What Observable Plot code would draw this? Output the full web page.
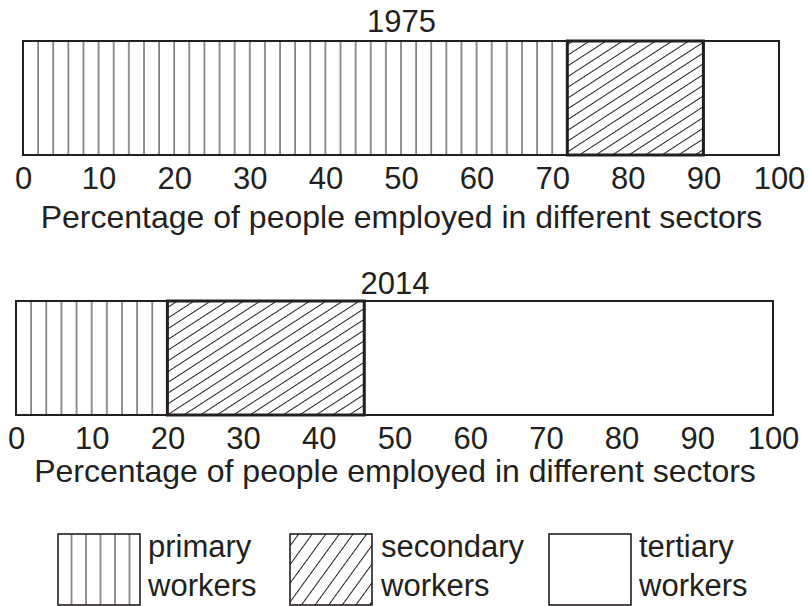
<!DOCTYPE html>
<html>
<head>
<meta charset="utf-8">
<script src="https://cdn.jsdelivr.net/npm/d3@7"></script>
<script src="https://cdn.jsdelivr.net/npm/@observablehq/plot@0.6"></script>
<style>
  html, body { margin: 0; padding: 0; background: #fff; }
  #wrap { position: relative; width: 809px; height: 606px; overflow: hidden; font-family: "Liberation Sans", Arial, sans-serif; color: #231f20; }
  #wrap > svg { position: absolute; left: 0; }
</style>
</head>
<body>
<div id="wrap"></div>
<script>
// ---- data ----
const years = ["1975", "2014"];
const sectors = ["primary", "secondary", "tertiary"];
const sectorLabels = [["primary", "workers"], ["secondary", "workers"], ["tertiary", "workers"]];
const primaryPct = [72, 20];
const secondaryPct = [18, 26];
const tertiaryPct = [10, 54];
const xTicks = [0, 10, 20, 30, 40, 50, 60, 70, 80, 90, 100];
const axisLabel = "Percentage of people employed in different sectors";

const INK = "#231f20";
const FONT = "Liberation Sans, Arial, sans-serif";
const FS = 31;
const FS_LABEL = 32;

function rowsFor(i) {
  const vals = [primaryPct[i], secondaryPct[i], tertiaryPct[i]];
  let acc = 0;
  return sectors.map((s, k) => {
    const r = {year: years[i], sector: s, x1: acc, x2: acc + vals[k]};
    acc += vals[k];
    return r;
  });
}

const NS = "http://www.w3.org/2000/svg";
function el(name, attrs, parent) {
  const e = document.createElementNS(NS, name);
  for (const k in attrs) e.setAttribute(k, attrs[k]);
  if (parent) parent.appendChild(e);
  return e;
}

function addPatterns(svg, id, x0, stripeW) {
  const defs = el("defs", {});
  svg.insertBefore(defs, svg.firstChild);
  const p = el("pattern", {id: "prim" + id, patternUnits: "userSpaceOnUse", x: x0 - 1, y: 0, width: stripeW, height: 20}, defs);
  el("rect", {x: 0, y: 0, width: stripeW, height: 20, fill: "#fff"}, p);
  el("line", {x1: 1, x2: 1, y1: 0, y2: 20, stroke: "#3a3637", "stroke-width": 1.1}, p);
  const h = el("pattern", {id: "hatch" + id, patternUnits: "userSpaceOnUse", width: 20, height: 9, patternTransform: "rotate(-33)"}, defs);
  el("rect", {x: 0, y: 0, width: 20, height: 9, fill: "#fff"}, h);
  el("line", {x1: 0, x2: 20, y1: 4.5, y2: 4.5, stroke: INK, "stroke-width": 1}, h);
}

function makeChart(i, mLeft, mRight, mTop, top, titleDy, labelDy) {
  const rows = rowsFor(i);
  const id = years[i];
  const plot = Plot.plot({
    width: 809,
    height: mTop + 114 + 85,
    marginLeft: mLeft,
    marginRight: mRight,
    marginTop: mTop,
    marginBottom: 85,
    style: {fontFamily: FONT, fontSize: FS + "px", color: INK, background: "transparent", overflow: "visible"},
    x: {domain: [0, 100], ticks: xTicks},
    y: {type: "band", domain: [id], padding: 0, axis: null},
    marks: [
      Plot.axisX({ticks: xTicks, tickSize: 0, tickPadding: 11, fontSize: FS, fill: INK, label: null}),
      Plot.barX(rows.filter(d => d.sector === "primary"), {x1: "x1", x2: "x2", y: "year", fill: "url(#prim" + id + ")", stroke: INK, strokeWidth: 2, inset: 0}),
      Plot.barX(rows.filter(d => d.sector === "tertiary"), {x1: "x1", x2: "x2", y: "year", fill: "#fff", stroke: INK, strokeWidth: 2, inset: 0}),
      Plot.barX(rows.filter(d => d.sector === "secondary"), {x1: "x1", x2: "x2", y: "year", fill: "url(#hatch" + id + ")", stroke: INK, strokeWidth: 3, inset: 0}),
      Plot.text([id], {text: d => d, frameAnchor: "top", lineAnchor: "bottom", dy: titleDy, fontSize: FS, fill: INK}),
      Plot.text([axisLabel], {text: d => d, frameAnchor: "bottom", lineAnchor: "bottom", dy: labelDy, fontSize: FS_LABEL, fill: INK})
    ]
  });
  const sx = plot.scale("x");
  addPatterns(plot, id, sx.apply(0), sx.apply(2) - sx.apply(0));
  plot.style.top = top + "px";
  document.getElementById("wrap").appendChild(plot);
}

makeChart(0, 23, 30, 41, 0, -10, 72);
makeChart(1, 16, 36, 51, 250, -8, 66);

// ---- legend ----
const lg = el("svg", {width: 809, height: 100, viewBox: "0 520 809 100"});
lg.style.top = "520px";
const ldefs = el("defs", {}, lg);
const lp = el("pattern", {id: "legPrim", patternUnits: "userSpaceOnUse", x: 70.5, y: 0, width: 14.5, height: 20}, ldefs);
el("rect", {x: 0, y: 0, width: 14.5, height: 20, fill: "#fff"}, lp);
el("line", {x1: 1, x2: 1, y1: 0, y2: 20, stroke: "#3a3637", "stroke-width": 1.1}, lp);
const lh = el("pattern", {id: "legHatch", patternUnits: "userSpaceOnUse", width: 20, height: 11, patternTransform: "rotate(-54)"}, ldefs);
el("rect", {x: 0, y: 0, width: 20, height: 11, fill: "#fff"}, lh);
el("line", {x1: 0, x2: 20, y1: 5.5, y2: 5.5, stroke: INK, "stroke-width": 1}, lh);

const boxes = [
  {x: 58, fill: "url(#legPrim)", tx: 148},
  {x: 290, fill: "url(#legHatch)", tx: 381},
  {x: 549, fill: "#fff", tx: 639}
];
boxes.forEach((b, k) => {
  el("rect", {x: b.x, y: 534, width: 82, height: 71, fill: b.fill, stroke: INK, "stroke-width": 1.6}, lg);
  sectorLabels[k].forEach((line, j) => {
    const t = el("text", {x: b.tx, y: 557 + j * 39, fill: INK, "font-family": FONT, "font-size": FS}, lg);
    t.textContent = line;
  });
});
document.getElementById("wrap").appendChild(lg);
</script>
</body>
</html>
